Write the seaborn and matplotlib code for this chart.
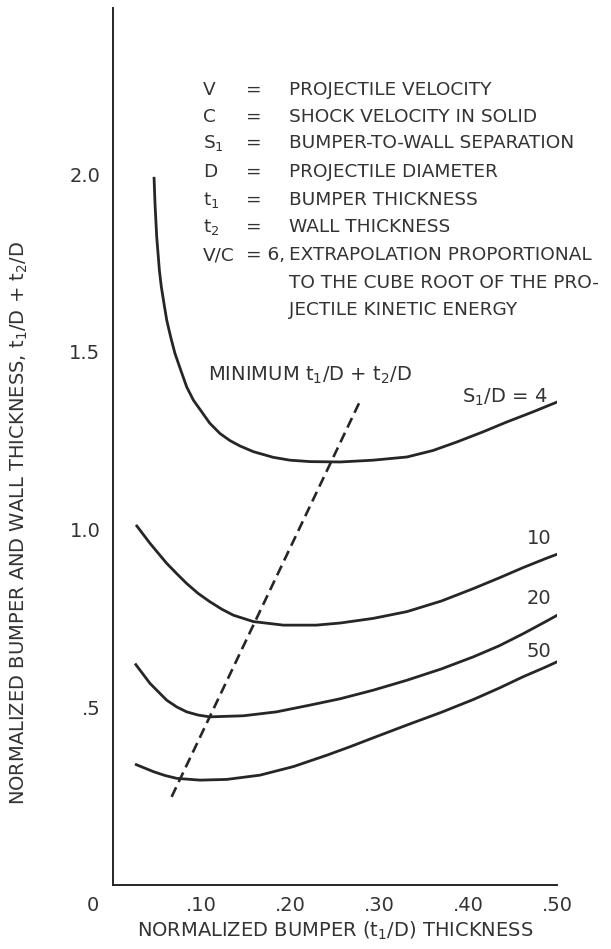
import numpy as np
import pandas as pd
import matplotlib
matplotlib.use("Agg")
import matplotlib.pyplot as plt
import matplotlib.transforms as mtransforms
import seaborn as sns

# curves (x = t1/D, y = t1/D + t2/D)
s4_x = [0.0462, 0.0473, 0.0492, 0.0522, 0.0544, 0.0574, 0.0605, 0.0649, 0.0698, 0.0762,
        0.083, 0.0905, 0.0999, 0.109, 0.1205, 0.1318, 0.143, 0.158, 0.1805, 0.1993,
        0.222, 0.256, 0.293, 0.331, 0.360, 0.387, 0.417, 0.443, 0.473, 0.5015]
s4_y = [1.992, 1.917, 1.824, 1.730, 1.683, 1.636, 1.589, 1.542, 1.495, 1.449,
        1.401, 1.364, 1.331, 1.299, 1.270, 1.250, 1.235, 1.219, 1.203, 1.195,
        1.191, 1.190, 1.195, 1.204, 1.222, 1.246, 1.275, 1.302, 1.331, 1.360]

s10_x = [0.0259, 0.0417, 0.0604, 0.0717, 0.083, 0.096, 0.109, 0.1224, 0.1355, 0.158,
         0.1918, 0.229, 0.256, 0.293, 0.331, 0.370, 0.406, 0.435, 0.462, 0.488, 0.5146]
s10_y = [1.013, 0.961, 0.905, 0.876, 0.848, 0.820, 0.797, 0.776, 0.759, 0.741,
         0.731, 0.731, 0.737, 0.750, 0.769, 0.799, 0.834, 0.864, 0.893, 0.919, 0.944]

s20_x = [0.0248, 0.0417, 0.0604, 0.0717, 0.083, 0.096, 0.109, 0.1468, 0.184, 0.2218,
         0.256, 0.293, 0.331, 0.370, 0.406, 0.435, 0.462, 0.488, 0.512]
s20_y = [0.623, 0.567, 0.520, 0.501, 0.487, 0.478, 0.473, 0.476, 0.487, 0.506,
         0.524, 0.548, 0.576, 0.608, 0.642, 0.673, 0.707, 0.742, 0.775]

s50_x = [0.0248, 0.0454, 0.0586, 0.0717, 0.098, 0.128, 0.1655, 0.203, 0.2407, 0.267,
         0.293, 0.331, 0.370, 0.406, 0.435, 0.462, 0.488, 0.508]
s50_y = [0.340, 0.319, 0.308, 0.300, 0.295, 0.297, 0.309, 0.333, 0.365, 0.389,
         0.414, 0.450, 0.486, 0.522, 0.554, 0.586, 0.614, 0.637]

min_x = [0.066, 0.277]
min_y = [0.248, 1.355]

curve_names = ["4", "10", "20", "50"]
xticks = [0, 0.10, 0.20, 0.30, 0.40, 0.50]
xtick_labels = ["0", ".10", ".20", ".30", ".40", ".50"]
yticks = [0.5, 1.0, 1.5, 2.0]
ytick_labels = [".5", "1.0", "1.5", "2.0"]

key_sym = ["V", "C", "S$_1$", "D", "t$_1$", "t$_2$", "V/C"]
key_eq = ["=", "=", "=", "=", "=", "=", "= 6,"]
key_txt = ["PROJECTILE VELOCITY", "SHOCK VELOCITY IN SOLID", "BUMPER-TO-WALL SEPARATION",
           "PROJECTILE DIAMETER", "BUMPER THICKNESS", "WALL THICKNESS",
           "EXTRAPOLATION PROPORTIONAL", "TO THE CUBE ROOT OF THE PRO-",
           "JECTILE KINETIC ENERGY"]

rows = []
for name, xs, ys in zip(curve_names, [s4_x, s10_x, s20_x, s50_x], [s4_y, s10_y, s20_y, s50_y]):
    for i, (a, b) in enumerate(zip(xs, ys)):
        rows.append({"s1d": name, "order": i, "t1": a, "total": b})
df = pd.DataFrame(rows)
dash = pd.DataFrame({"t1": min_x, "total": min_y})

sns.set_theme(style="white")
plt.rcParams["font.family"] = ["DejaVu Sans"]
plt.rcParams["mathtext.fontset"] = "dejavusans"
plt.rcParams["mathtext.default"] = "regular"

ink = "#262626"
txt = "#333333"
fs = 14
fk = 13.3

fig = plt.figure(figsize=(6.11, 9.49), dpi=100)
ax = fig.add_axes([113 / 611, 64 / 949, 444 / 611, 877 / 949])

sns.lineplot(data=df, x="t1", y="total", hue="s1d", units="s1d", estimator=None, sort=False,
             palette=[ink] * 4, legend=False, lw=2.0, ax=ax,
             solid_joinstyle="round", solid_capstyle="butt")
sns.lineplot(data=dash, x="t1", y="total", color=ink, lw=1.9, ax=ax,
             linestyle=(0, (4, 2.2)))

ax.set_xlim(0, 0.5)
ax.set_ylim(0, 2.467)
sns.despine(ax=ax)
for sp in ["left", "bottom"]:
    ax.spines[sp].set_color(ink)
    ax.spines[sp].set_linewidth(1.4)

ax.set_xticks(xticks)
ax.set_xticklabels(xtick_labels)
ax.set_yticks(yticks)
ax.set_yticklabels(ytick_labels)
ax.tick_params(axis="x", direction="in", length=17, width=1.4, color=ink, pad=8,
               labelsize=fs, labelcolor=txt)
ax.tick_params(axis="y", direction="in", length=18, width=1.4, color=ink, pad=9,
               labelsize=fs, labelcolor=txt)
t0 = ax.xaxis.get_major_ticks()[0]
t0.tick1line.set_visible(False)
t0.label1.set_transform(t0.label1.get_transform() +
                        mtransforms.ScaledTranslation(-20 / 100, 0, fig.dpi_scale_trans))

ax.set_xlabel("NORMALIZED BUMPER (t$_1$/D) THICKNESS", fontsize=fs, color=txt)
ax.xaxis.set_label_coords(0.5, -0.040)
ax.set_ylabel("NORMALIZED BUMPER AND WALL THICKNESS, t$_1$/D + t$_2$/D", fontsize=fs, color=txt)
ax.yaxis.set_label_coords(-0.188, 0.413)

# key block
line_px = [90, 117, 143, 172, 200, 227, 255, 283, 310]
for i, yp in enumerate(line_px):
    yy = 1 - yp / 949
    if i < len(key_sym):
        fig.text(203 / 611, yy, key_sym[i], fontsize=fk, color=txt, va="center", ha="left")
        fig.text(246 / 611, yy, key_eq[i], fontsize=fk, color=txt, va="center", ha="left")
    fig.text(289 / 611, yy, key_txt[i], fontsize=fk, color=txt, va="center", ha="left")

ax.text(0.1074, 1.435, "MINIMUM t$_1$/D + t$_2$/D", fontsize=fs, color=txt, va="center")
ax.text(0.393, 1.373, "S$_1$/D = 4", fontsize=fs, color=txt, va="center")
ax.text(0.48, 0.975, "10", fontsize=fs, color=txt, va="center", ha="center")
ax.text(0.48, 0.806, "20", fontsize=fs, color=txt, va="center", ha="center")
ax.text(0.48, 0.656, "50", fontsize=fs, color=txt, va="center", ha="center")

fig.savefig("out.png", dpi=100, facecolor="white")
